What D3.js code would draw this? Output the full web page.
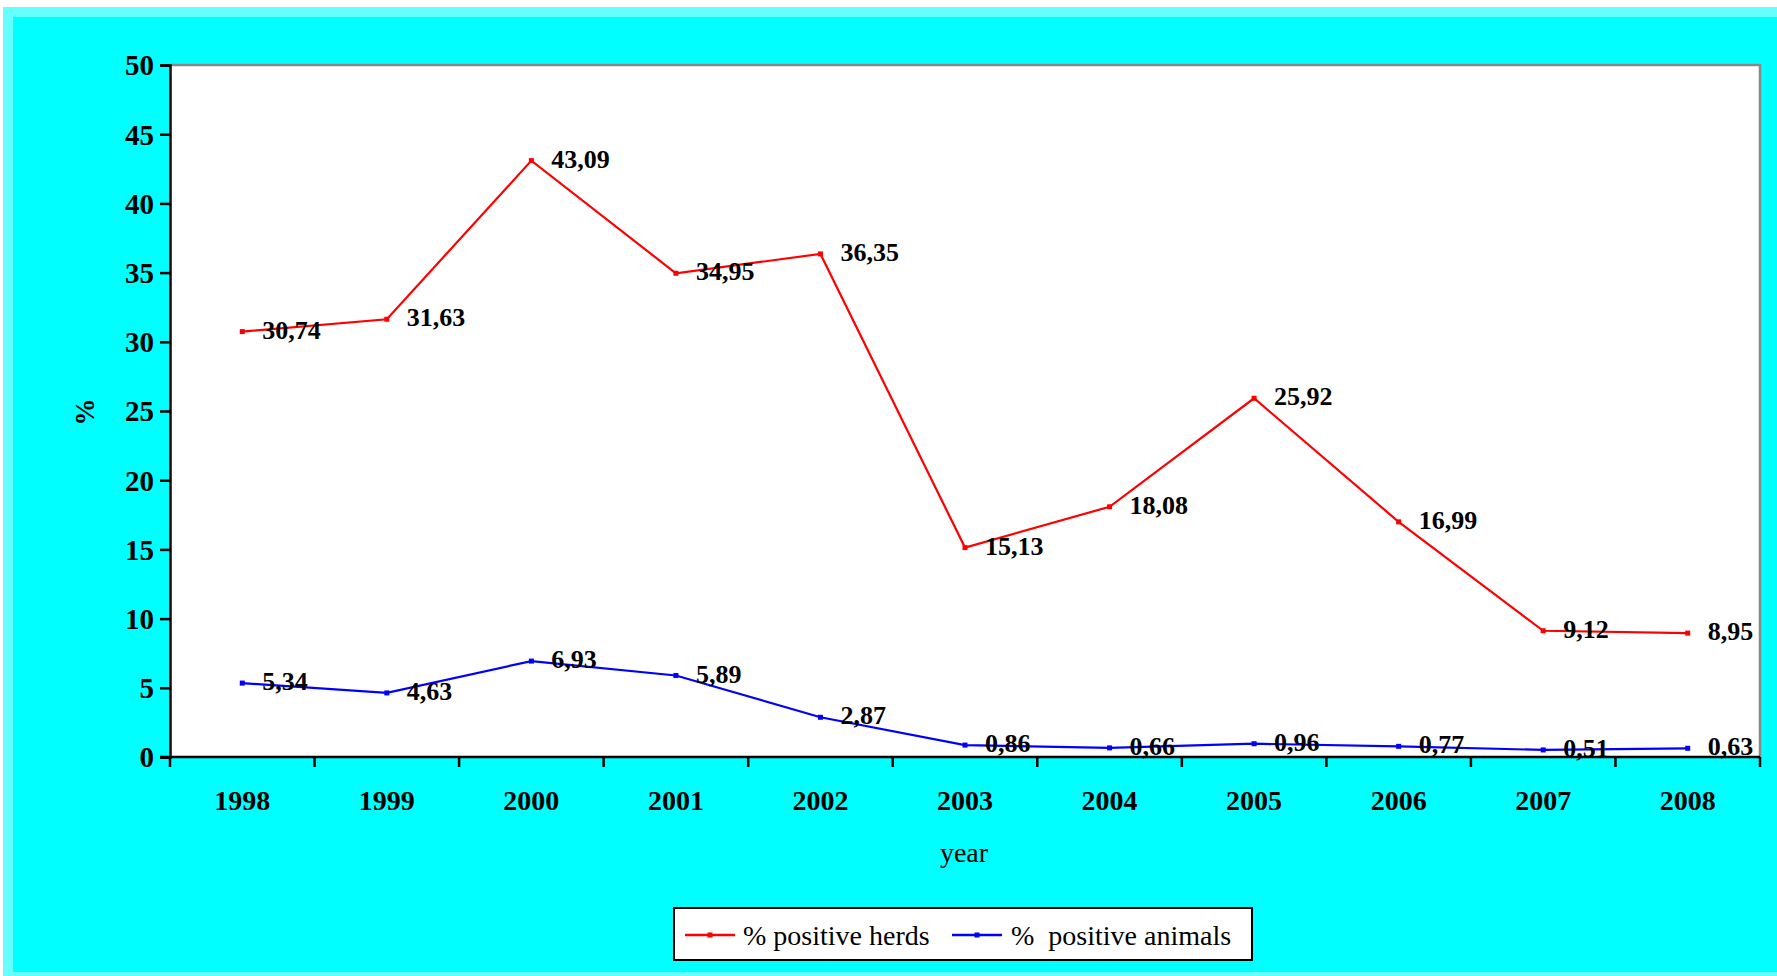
<!DOCTYPE html>
<html>
<head>
<meta charset="utf-8">
<script src="https://cdn.jsdelivr.net/npm/d3@7/dist/d3.min.js"></script>
<style>
html, body { margin:0; padding:0; background:#fff; }
svg { display:block; }
</style>
</head>
<body>
<svg id="chart" width="1777" height="976"></svg>
<script>
const years = ["1998","1999","2000","2001","2002","2003","2004","2005","2006","2007","2008"];
const herds = [30.74, 31.63, 43.09, 34.95, 36.35, 15.13, 18.08, 25.92, 16.99, 9.12, 8.95];
const animals = [5.34, 4.63, 6.93, 5.89, 2.87, 0.86, 0.66, 0.96, 0.77, 0.51, 0.63];
const yTicks = [0,5,10,15,20,25,30,35,40,45,50];
const seriesNames = ["% positive herds", "%  positive animals"];
const seriesColors = ["#ff0000", "#0000ff"];

(function(){
const W = 1777, H = 976;
const svg = d3.select("#chart");
const serif = "'Liberation Serif', 'Times New Roman', Times, serif";

// background frame
svg.append("rect").attr("x",0).attr("y",0).attr("width",W).attr("height",H).attr("fill","#ffffff");
svg.append("rect").attr("x",3).attr("y",7).attr("width",W-3).attr("height",H-7).attr("fill","#66ffff");
svg.append("rect").attr("x",13).attr("y",17).attr("width",W-13).attr("height",972-17).attr("fill","#00ffff");

const pL = 170, pR = 1760, pT = 65, pB = 757;

const x = d3.scaleBand().domain(years).range([pL, pR]).padding(0);
const y = d3.scaleLinear().domain([0, 50]).range([pB, pT]);

// plot area
svg.append("rect").attr("x",pL).attr("y",pT).attr("width",pR-pL).attr("height",pB-pT).attr("fill","#ffffff");
svg.append("path")
  .attr("d", `M${pL},${pT}H${pR}V${pB}`)
  .attr("fill","none").attr("stroke","#888888").attr("stroke-width",2.5);

// Y axis
const yAxis = d3.axisLeft(y).tickValues(yTicks).tickSize(10).tickPadding(6).tickFormat(d3.format("d"));
const gy = svg.append("g").attr("transform",`translate(${pL},0)`).call(yAxis);
gy.select(".domain").attr("stroke","#000").attr("stroke-width",2.5);
gy.selectAll(".tick line").attr("stroke","#000").attr("stroke-width",2.5);
gy.selectAll(".tick text").attr("font-family",serif).attr("font-weight","bold").attr("font-size",29).attr("fill","#000").attr("dy","0.34em");

// X axis labels
const xAxis = d3.axisBottom(x).tickSize(0).tickPadding(33);
const gx = svg.append("g").attr("transform",`translate(0,${pB})`).call(xAxis);
gx.select(".domain").remove();
gx.selectAll(".tick text").attr("font-family",serif).attr("font-weight","bold").attr("font-size",28).attr("fill","#000");

// X axis line and boundary ticks
const bounds = years.map(d => x(d)).concat([x.range()[1]]);
svg.append("line").attr("x1",pL-10).attr("x2",pR).attr("y1",pB).attr("y2",pB)
  .attr("stroke","#000").attr("stroke-width",2.5);
svg.selectAll(".xb").data(bounds).join("line").attr("class","xb")
  .attr("x1",d=>d).attr("x2",d=>d).attr("y1",pB).attr("y2",pB+10)
  .attr("stroke","#000").attr("stroke-width",2.5);

// axis titles
svg.append("text").attr("x", 964).attr("y", 862)
  .attr("text-anchor","middle").attr("font-family",serif).attr("font-size",28).attr("fill","#000").text("year");
svg.append("text").attr("transform","translate(94,412) rotate(-90)")
  .attr("text-anchor","middle").attr("font-family",serif).attr("font-weight","bold").attr("font-size",27).attr("fill","#000").text("%");

const fmt = v => d3.format(".2f")(v).replace(".", ",");
const cx = d => x(d) + x.bandwidth()/2;

const series = [herds, animals];
series.forEach((vals, si) => {
  const data = years.map((yr, i) => ({yr, v: vals[i]}));
  const line = d3.line().x(d => cx(d.yr)).y(d => y(d.v));
  svg.append("path").datum(data).attr("d", line).attr("fill","none")
    .attr("stroke", seriesColors[si]).attr("stroke-width", 2.2);
  svg.selectAll(".m"+si).data(data).join("rect").attr("class","m"+si)
    .attr("x", d => cx(d.yr)-2.5).attr("y", d => y(d.v)-2.5).attr("width",5).attr("height",5)
    .attr("fill", seriesColors[si]);
  svg.selectAll(".l"+si).data(data).join("text").attr("class","l"+si)
    .attr("x", d => cx(d.yr)+20).attr("y", d => y(d.v)-2).attr("dy","0.35em")
    .attr("font-family",serif).attr("font-weight","bold").attr("font-size",26).attr("fill","#000")
    .text(d => fmt(d.v));
});

// legend
const lg = svg.append("g");
lg.append("rect").attr("x",674).attr("y",908).attr("width",578).attr("height",52)
  .attr("fill","#ffffff").attr("stroke","#000").attr("stroke-width",2);
const legendItems = [
  {name: seriesNames[0], color: seriesColors[0], x0: 685, x1: 735, tx: 743},
  {name: seriesNames[1], color: seriesColors[1], x0: 952, x1: 1002, tx: 1011}
];
legendItems.forEach(it => {
  lg.append("line").attr("x1",it.x0).attr("x2",it.x1).attr("y1",935).attr("y2",935)
    .attr("stroke",it.color).attr("stroke-width",2.5);
  lg.append("rect").attr("x",(it.x0+it.x1)/2-2.5).attr("y",932.5).attr("width",5).attr("height",5).attr("fill",it.color);
  lg.append("text").attr("x",it.tx).attr("y",935).attr("dy","0.35em")
    .attr("font-family",serif).attr("font-size",28).attr("fill","#000")
    .style("white-space","pre").text(it.name);
});
})();
</script>
</body>
</html>
